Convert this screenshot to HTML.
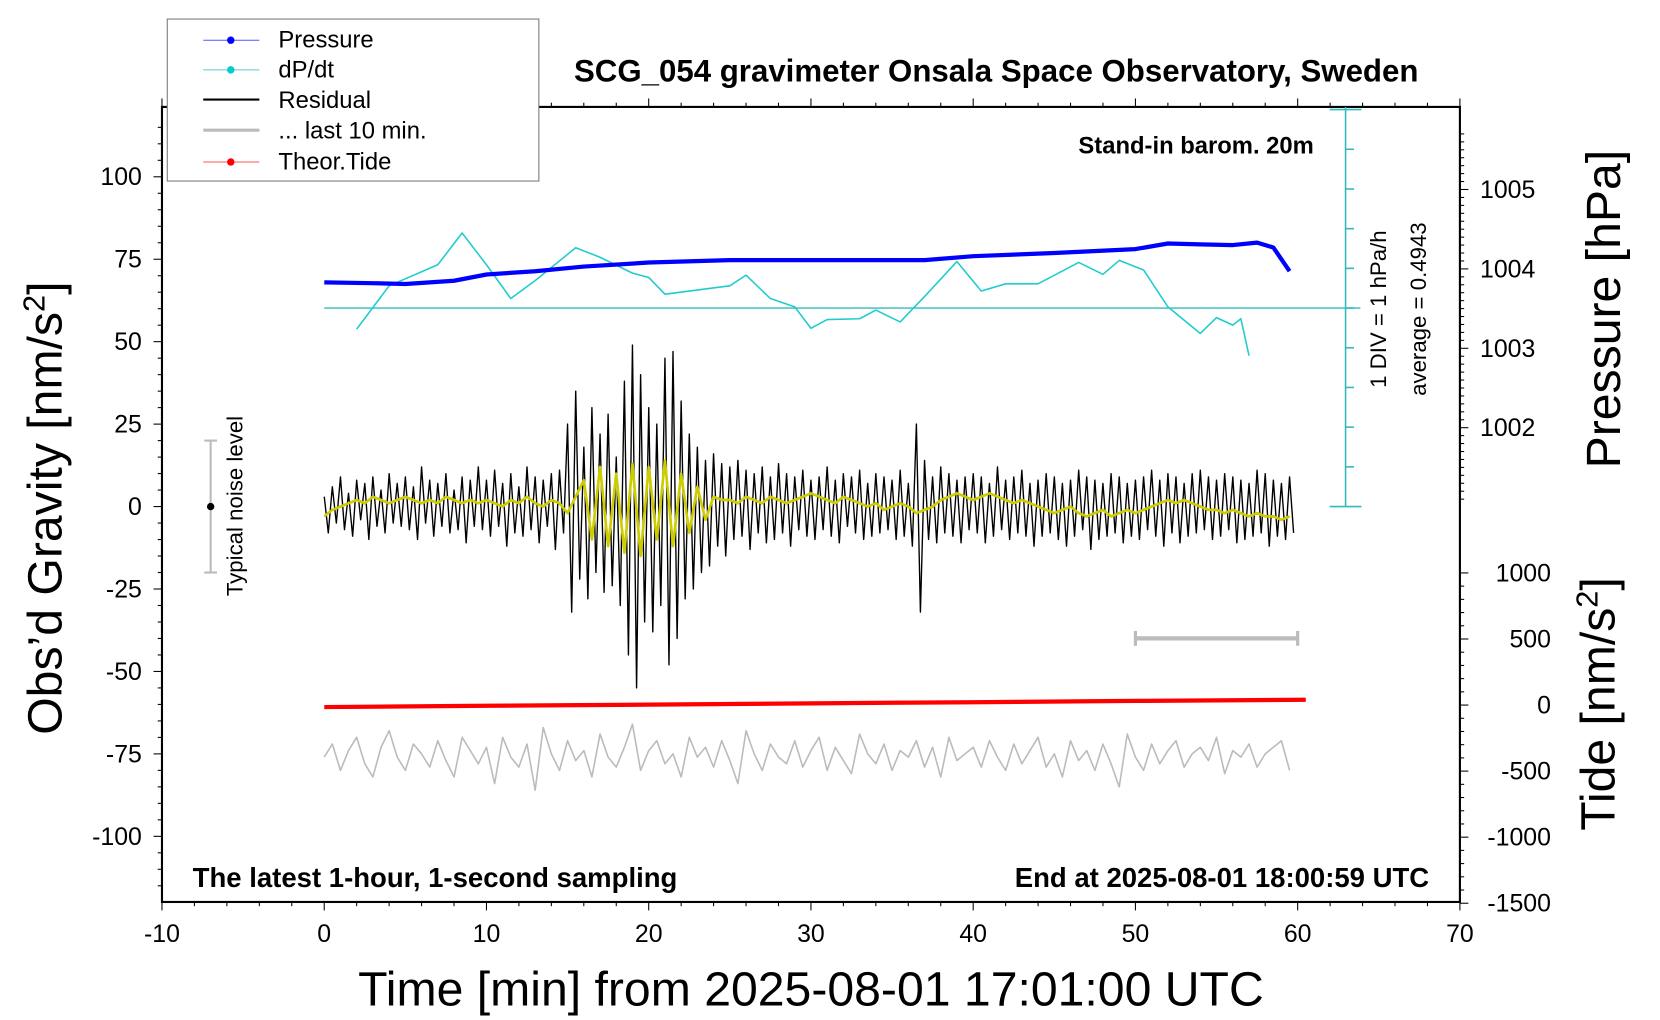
<!DOCTYPE html>
<html><head><meta charset="utf-8"><style>
html,body{margin:0;padding:0;background:#fff;}
svg{display:block;font-family:"Liberation Sans",Arial,sans-serif;}
</style></head><body>
<svg id="chart" width="1660" height="1020" viewBox="0 0 1568 963.5" preserveAspectRatio="none" xmlns="http://www.w3.org/2000/svg">
<rect x="0" y="0" width="1568" height="963.5" fill="#fff"/>
<g id="marks"></g>
<g id="axes"></g>
<text x="941" y="77" font-size="29.5" font-weight="bold" text-anchor="middle">SCG_054 gravimeter Onsala Space Observatory, Sweden</text>
<text x="1241" y="145" font-size="22.5" font-weight="bold" text-anchor="end">Stand-in barom. 20m</text>
<text x="182" y="838" font-size="26" font-weight="bold">The latest 1-hour, 1-second sampling</text>
<text x="1350" y="838" font-size="26" font-weight="bold" text-anchor="end">End at 2025-08-01 18:00:59 UTC</text>
<text x="766" y="950" font-size="45.5" text-anchor="middle">Time [min] from 2025-08-01 17:01:00 UTC</text>
<text transform="translate(58,480) rotate(-90)" font-size="45.5" text-anchor="middle">Obs’d Gravity [nm/s<tspan font-size="29" dy="-16">2</tspan><tspan dy="16">]</tspan></text>
<text transform="translate(1530,292) rotate(-90)" font-size="45.5" text-anchor="middle">Pressure [hPa]</text>
<text transform="translate(1525,665) rotate(-90)" font-size="45.5" text-anchor="middle">Tide [nm/s<tspan font-size="29" dy="-16">2</tspan><tspan dy="16">]</tspan></text>
<text transform="translate(1309,292) rotate(-90)" font-size="21" text-anchor="middle">1 DIV = 1 hPa/h</text>
<text transform="translate(1347,292) rotate(-90)" font-size="21" text-anchor="middle">average = 0.4943</text>
<text transform="translate(229,478) rotate(-90)" font-size="21" text-anchor="middle">Typical noise level</text>
<g>
<rect x="158" y="18" width="351" height="153" fill="#fff" stroke="#777" stroke-width="1"/>
<line x1="192" y1="38" x2="245" y2="38" stroke="#55f" stroke-width="1"/><circle cx="218" cy="38" r="3.5" fill="#00f"/>
<text x="263" y="45" font-size="22.5">Pressure</text>
<line x1="192" y1="66" x2="245" y2="66" stroke="#5cc" stroke-width="1"/><circle cx="218" cy="66" r="3.5" fill="#0cc"/>
<text x="263" y="73" font-size="22.5">dP/dt</text>
<line x1="192" y1="94" x2="245" y2="94" stroke="#000" stroke-width="2"/>
<text x="263" y="102" font-size="22.5">Residual</text>
<line x1="192" y1="123" x2="245" y2="123" stroke="#bbb" stroke-width="3"/>
<text x="263" y="131" font-size="22.5">... last 10 min.</text>
<line x1="192" y1="153" x2="245" y2="153" stroke="#f55" stroke-width="1"/><circle cx="218" cy="153" r="3.5" fill="#f00"/>
<text x="263" y="160" font-size="22.5">Theor.Tide</text>
</g>
</svg>
<script>
// ---- data ----
const pressureMin = [0, 3, 5, 8, 10, 13, 16, 20, 25, 30, 35, 37, 40, 45, 50, 52, 54, 56, 57.5, 58.5, 59.5];
const pressureHpa = [1003.83, 1003.82, 1003.81, 1003.85, 1003.93, 1003.97, 1004.03, 1004.08, 1004.11, 1004.11, 1004.11, 1004.11, 1004.16, 1004.2, 1004.25, 1004.32, 1004.31, 1004.3, 1004.33, 1004.27, 1003.97];
const dpdtMin = [2, 4, 7, 8.5, 10, 11.5, 13, 15.5, 17, 19, 20, 21, 25, 26, 27.5, 29, 30, 31, 33, 34, 35.5, 37, 39, 40.5, 42, 44, 46.5, 48, 49, 50.5, 52, 54, 55, 56, 56.5, 57];
const dpdtVal = [-0.53, 0.56, 1.09, 1.89, 1.09, 0.24, 0.69, 1.52, 1.28, 0.88, 0.77, 0.35, 0.56, 0.83, 0.24, 0.03, -0.51, -0.29, -0.27, -0.05, -0.35, 0.29, 1.17, 0.43, 0.61, 0.61, 1.15, 0.85, 1.2, 0.96, 0.03, -0.64, -0.24, -0.43, -0.27, -1.2];
const residual = [3,-8,6,-5,9,-7,4,-9,8,-4,7,-10,9,-6,5,-8,10,-5,7,-6,
9,-7,6,-10,12,-5,8,-9,7,-6,10,-8,5,-7,9,-11,8,-6,12,-7,
8,-9,11,-6,7,-12,10,-8,6,-9,12,-7,9,-11,8,-6,10,-13,11,-8,
25,-32,35,-22,18,-28,30,-20,22,-26,28,-24,15,-30,38,-45,49,-55,40,-35,
30,-38,25,-30,45,-48,47,-40,32,-28,22,-25,18,-20,14,-18,16,-12,13,-15,
12,-10,14,-9,11,-13,10,-8,12,-11,9,-10,13,-8,10,-12,9,-7,11,-9,
8,-10,9,-7,12,-9,8,-11,10,-6,9,-8,11,-10,7,-9,10,-8,9,-7,
8,-10,11,-9,7,-12,25,-32,14,-10,9,-11,12,-8,10,-9,8,-11,9,-7,
10,-8,9,-11,7,-9,12,-7,8,-10,9,-8,11,-9,7,-12,8,-9,10,-8,
9,-10,7,-12,8,-9,11,-7,9,-13,8,-10,7,-9,10,-8,9,-11,7,-9,
8,-10,9,-7,11,-9,8,-12,10,-8,9,-11,7,-9,10,-8,11,-7,9,-10,
8,-9,10,-7,9,-11,8,-10,7,-9,11,-8,10,-12,8,-9,7,-10,9,-8];
const smoothed = [-3,-1,0,1,2,1,3,2,1,2,3,2,1,2,1,3,2,1,2,1,
2,1,0,2,1,3,1,0,2,1,-2,3,8,-10,12,-12,10,-14,13,-15,
12,-10,14,-12,10,-8,6,-4,3,2,2,1,3,2,1,3,2,1,2,3,
4,3,2,1,3,2,1,0,1,-1,0,1,0,-2,-1,0,2,3,4,3,
2,3,4,3,2,1,2,1,0,-1,-2,-1,0,-2,-3,-2,-1,-3,-2,-1,
-2,-1,0,1,2,1,2,1,0,-1,-1,-2,-1,-2,-3,-2,-3,-3,-4,-3];
const last10 = [-76,-72,-80,-74,-70,-78,-82,-73,-68,-76,-80,-72,-75,-79,-71,-77,-82,-70,-74,-78,
-73,-84,-70,-76,-79,-72,-86,-67,-75,-80,-71,-77,-74,-82,-69,-76,-79,-73,-66,-80,
-74,-71,-78,-75,-82,-70,-76,-73,-79,-71,-77,-84,-68,-75,-80,-72,-76,-78,-71,-79,
-74,-70,-80,-73,-77,-81,-69,-75,-78,-72,-80,-74,-76,-71,-79,-73,-82,-70,-77,-75,
-73,-79,-71,-76,-80,-72,-78,-74,-70,-79,-75,-82,-71,-77,-74,-80,-72,-78,-85,-69,
-76,-80,-72,-78,-74,-71,-79,-75,-73,-77,-70,-81,-74,-76,-72,-79,-75,-73,-71,-80];
const tideMin = [0, 10, 20, 30, 40, 50, 60.5];
const tideVal = [-15, -6, 3, 13, 22, 31, 40];
const xTicks = [-10, 0, 10, 20, 30, 40, 50, 60, 70];
const gTicks = [100, 75, 50, 25, 0, -25, -50, -75, -100];
const pTicks = [1005, 1004, 1003, 1002];
const tTicks = [1000, 500, 0, -500, -1000, -1500];
const noiseRange = [20, -20];
const scaleBarMin = [50, 60];

// ---- axes functions ----
const X = m => 153 + (m + 10) * (1379 - 153) / 80;
const Yg = v => 478.5 - v * 3.115;
const Yp = p => 254 - (p - 1004) * 75;
const Yd = d => 291 - d * 37.5;
const Yt = t => 666 - t * 0.1248;
const NS = 'http://www.w3.org/2000/svg';
const marks = document.getElementById('marks');
const axes = document.getElementById('axes');
function mk(tag, parent, attrs) {
  const e = document.createElementNS(NS, tag);
  for (const k in attrs) e.setAttribute(k, attrs[k]);
  parent.appendChild(e);
  return e;
}
function poly(xs, ys, stroke, w) {
  return mk('polyline', marks, {points: xs.map((x, i) => x.toFixed(1) + ',' + ys[i].toFixed(1)).join(' '), fill: 'none', stroke: stroke, 'stroke-width': w, 'stroke-linejoin': 'round'});
}

let e = mk('line', marks, {x1: X(0), y1: Yd(0), x2: 1285, y2: Yd(0), stroke: '#3bb', 'stroke-width': 1.2});


e = poly(last10.map((v, i) => X(i * 0.5)), last10.map(Yg), '#bbb', 1.5);


e = poly(residual.map((v, i) => X(i * 0.25)), residual.map(Yg), '#000', 1.3);


e = poly(smoothed.map((v, i) => X(i * 0.5)), smoothed.map(Yg), '#cc0', 2.5);


e = poly(dpdtMin.map(X), dpdtVal.map(Yd), '#2cc', 1.5);


e = poly(pressureMin.map(X), pressureHpa.map(Yp), '#00f', 4);


e = poly(tideMin.map(X), tideVal.map(Yt), '#f00', 4);


e = mk('g', marks, {});


mk('line', e, {x1: X(-7), y1: Yg(noiseRange[0]), x2: X(-7), y2: Yg(noiseRange[1]), stroke: '#bbb', 'stroke-width': 2});
mk('line', e, {x1: X(-7) - 6, y1: Yg(noiseRange[0]), x2: X(-7) + 6, y2: Yg(noiseRange[0]), stroke: '#bbb', 'stroke-width': 2});
mk('line', e, {x1: X(-7) - 6, y1: Yg(noiseRange[1]), x2: X(-7) + 6, y2: Yg(noiseRange[1]), stroke: '#bbb', 'stroke-width': 2});
mk('circle', e, {cx: X(-7), cy: Yg(0), r: 3.5, fill: '#000'});
e = mk('g', marks, {});


mk('line', e, {x1: X(scaleBarMin[0]), y1: 603, x2: X(scaleBarMin[1]), y2: 603, stroke: '#bbb', 'stroke-width': 4});
mk('line', e, {x1: X(scaleBarMin[0]), y1: 596, x2: X(scaleBarMin[0]), y2: 610, stroke: '#bbb', 'stroke-width': 3});
mk('line', e, {x1: X(scaleBarMin[1]), y1: 596, x2: X(scaleBarMin[1]), y2: 610, stroke: '#bbb', 'stroke-width': 3});

e = mk('rect', axes, {x: 153, y: 101, width: 1226, height: 751, fill: 'none', stroke: '#000', 'stroke-width': 2});


for (let m = -10; m <= 70; m += 2) {
  const big = m % 10 === 0;
  mk('line', axes, {x1: X(m), y1: 852, x2: X(m), y2: 852 + (big ? 8 : 4), stroke: '#000', 'stroke-width': 1});
  mk('line', axes, {x1: X(m), y1: 101, x2: X(m), y2: 101 - (big ? 8 : 4), stroke: '#000', 'stroke-width': 1});
}
xTicks.forEach(m => {
  const t = mk('text', axes, {x: X(m), y: 890, 'font-size': 23.5, 'text-anchor': 'middle'});
  t.textContent = m;
  
  
});
for (let v = -115; v <= 115; v += 5) {
  const big = v % 25 === 0;
  mk('line', axes, {x1: 153, y1: Yg(v), x2: 153 - (big ? 8 : 4), y2: Yg(v), stroke: '#000', 'stroke-width': 1});
}
gTicks.forEach(v => {
  const t = mk('text', axes, {x: 134, y: Yg(v) + 8, 'font-size': 23.5, 'text-anchor': 'end'});
  t.textContent = v;
  
  
});
for (let p = 1000.7; p <= 1005.8; p += 0.1) {
  const big = Math.abs(p - Math.round(p)) < 0.01;
  if (Yp(p) < 101 || Yp(p) > 478) continue;
  mk('line', axes, {x1: 1379, y1: Yp(p), x2: 1379 + (big ? 8 : 4), y2: Yp(p), stroke: '#000', 'stroke-width': 1});
}
pTicks.forEach(p => {
  const t = mk('text', axes, {x: 1398, y: Yp(p) + 8, 'font-size': 23.5});
  t.textContent = p;
  
  
});
for (let v = -1500; v <= 1000; v += 100) {
  const big = v % 500 === 0;
  mk('line', axes, {x1: 1379, y1: Yt(v), x2: 1379 + (big ? 8 : 4), y2: Yt(v), stroke: '#000', 'stroke-width': 1});
}
tTicks.forEach(v => {
  const t = mk('text', axes, {x: 1465, y: Yt(v) + 8, 'font-size': 23.5, 'text-anchor': 'end'});
  t.textContent = v;
  
  
});
e = mk('g', axes, {});


mk('line', e, {x1: 1271, y1: 101, x2: 1271, y2: 478, stroke: '#3bb', 'stroke-width': 1.5});
for (let d = -5; d <= 5; d++) {
  const end = d === 5 || d === -5;
  mk('line', e, {x1: end ? 1256 : 1271, y1: Yd(d), x2: end ? 1286 : 1279, y2: Yd(d), stroke: '#3bb', 'stroke-width': 1.5});
}
</script>
</body></html>
